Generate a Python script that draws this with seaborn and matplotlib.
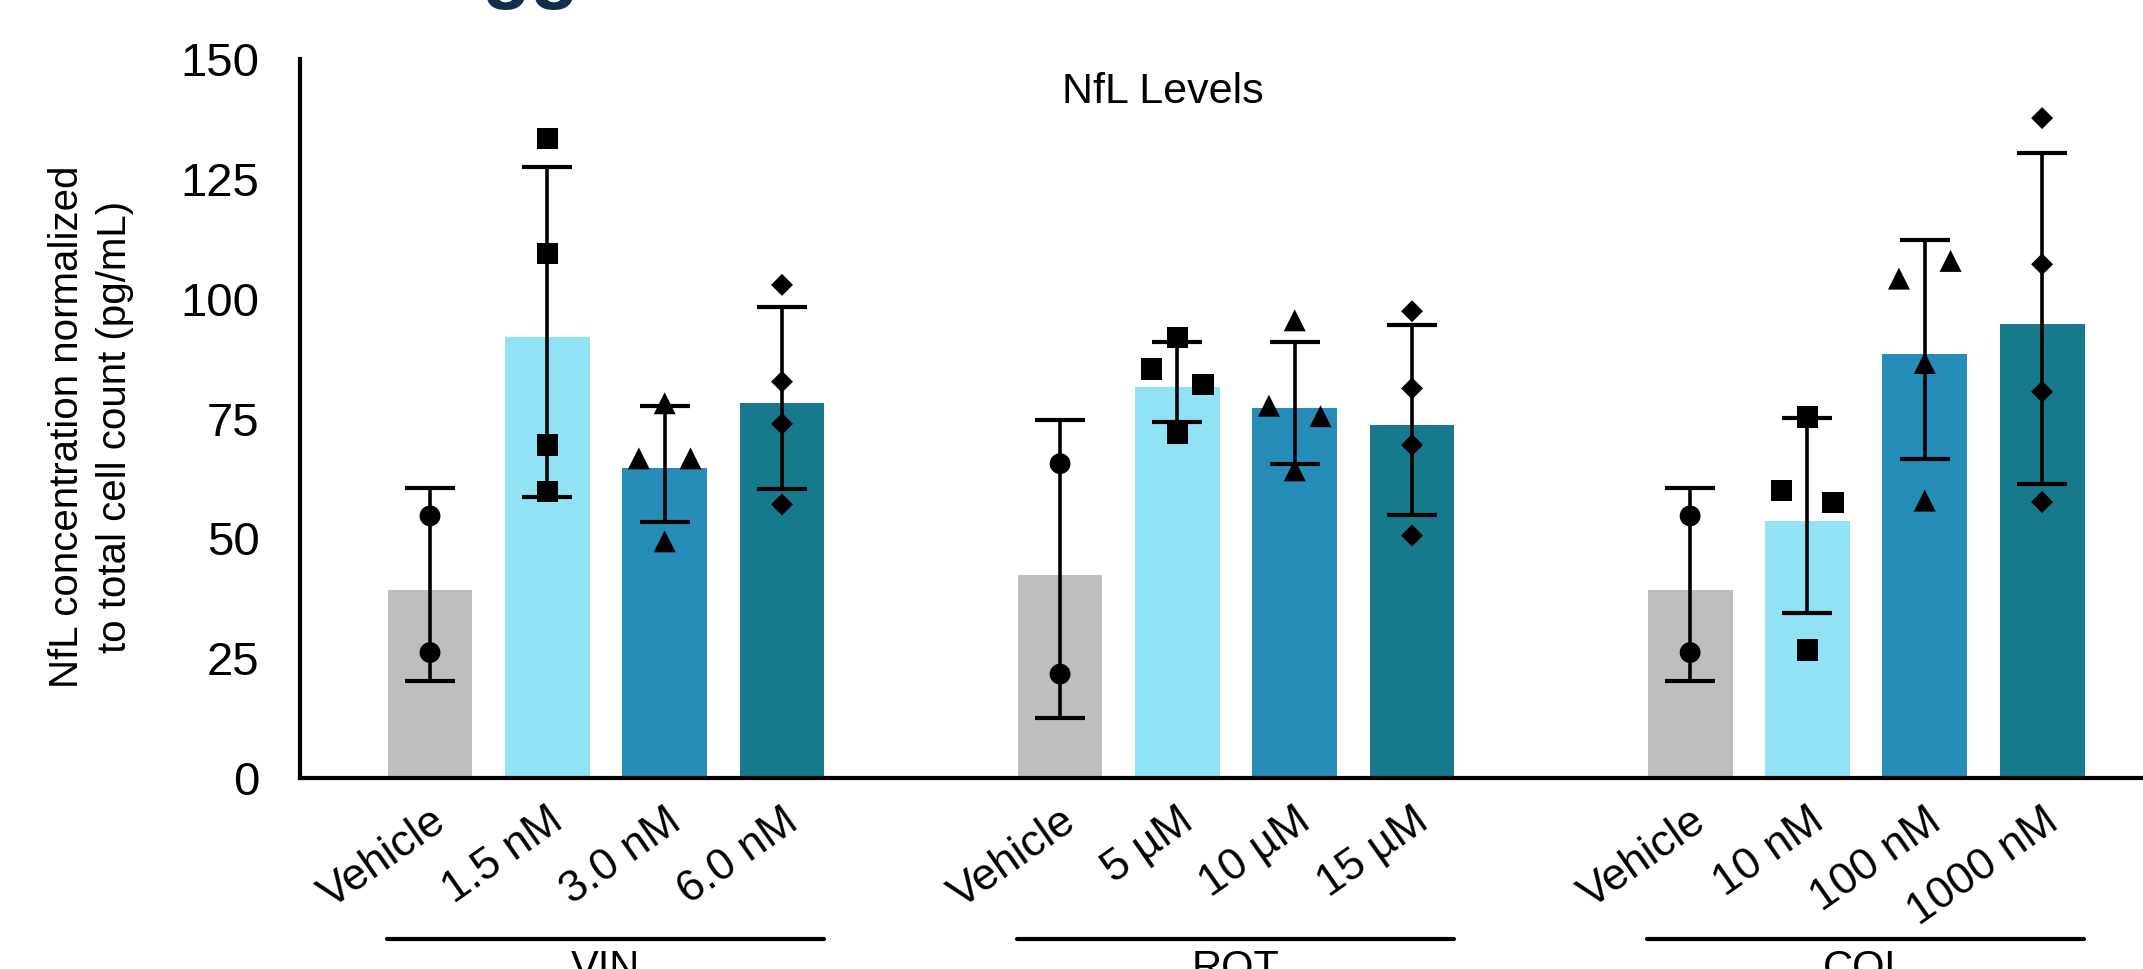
import numpy as np
import pandas as pd
import matplotlib
matplotlib.use("Agg")
import matplotlib.pyplot as plt
import matplotlib.transforms as mtransforms
import seaborn as sns

# data
groups = ["VIN", "ROT", "COL"]
dose_labels = [
    ["Vehicle", "1.5 nM", "3.0 nM", "6.0 nM"],
    ["Vehicle", "5 µM", "10 µM", "15 µM"],
    ["Vehicle", "10 nM", "100 nM", "1000 nM"],
]
bar_means = [
    [39.3, 92.0, 64.6, 78.2],
    [42.4, 81.6, 77.2, 73.7],
    [39.3, 53.6, 88.5, 94.7],
]
err_low = [
    [20.2, 58.6, 53.5, 60.3],
    [12.5, 74.3, 65.6, 54.9],
    [20.2, 34.5, 66.5, 61.3],
]
err_high = [
    [60.6, 127.5, 77.6, 98.3],
    [74.7, 91.0, 90.9, 94.5],
    [60.6, 75.2, 112.3, 130.4],
]
vin_points = [[54.7, 26.2], [133.4, 109.4, 69.5, 59.8], [78.2, 66.7, 66.7, 49.4], [102.9, 82.7, 73.9, 57.1]]
rot_points = [[65.6, 21.7], [91.9, 85.4, 82.1, 71.9], [95.5, 77.7, 75.5, 64.2], [97.4, 81.3, 69.5, 50.6]]
col_points = [[54.7, 26.2], [75.3, 60.0, 57.5, 26.7], [104.2, 107.9, 86.6, 57.9], [137.7, 107.2, 80.6, 57.6]]
all_points = [vin_points, rot_points, col_points]

# horizontal nudges for overlapping points (layout only)
vin_dx = [[0, 0], [0, 0, 0, 0], [0, -0.22, 0.22, 0], [0, 0, 0, 0]]
rot_dx = [[0, 0], [0, -0.22, 0.22, 0], [0, -0.22, 0.22, 0], [0, 0, 0, 0]]
col_dx = [[0, 0], [0, -0.22, 0.22, 0], [-0.22, 0.22, 0, 0], [0, 0, 0, 0]]
all_dx = [vin_dx, rot_dx, col_dx]

colors = ["#bebebe", "#90e2f4", "#268cb8", "#167a8c"]
markers = ["o", "s", "^", "D"]
marker_sizes = [225, 240, 250, 125]
group_step = 5.37

sns.set_style("white")
plt.rcParams["font.family"] = ["Liberation Sans", "DejaVu Sans"]
plt.rcParams["text.color"] = "black"
plt.rcParams["xtick.color"] = "black"
plt.rcParams["ytick.color"] = "black"

# build tables
bar_rows = []
pt_rows = []
for g in range(len(groups)):
    for i in range(4):
        pos = g * group_step + i
        bar_rows.append({"pos": pos, "mean": bar_means[g][i], "lo": err_low[g][i],
                         "hi": err_high[g][i], "dose": i, "label": dose_labels[g][i]})
        for v, dx in zip(all_points[g][i], all_dx[g][i]):
            pt_rows.append({"x": pos + dx, "y": v, "dose": i})
bars = pd.DataFrame(bar_rows)
pts = pd.DataFrame(pt_rows)

fig, ax = plt.subplots(figsize=(21.43, 9.69), dpi=100)
fig.subplots_adjust(left=0.140, right=1.0, bottom=0.197, top=0.939)

sns.barplot(data=bars, x="pos", y="mean", hue="dose", palette=colors, native_scale=True,
            width=0.723, errorbar=None, legend=False, saturation=1, linewidth=0, ax=ax)

ax.errorbar(bars["pos"], bars["mean"],
            yerr=[bars["mean"] - bars["lo"], bars["hi"] - bars["mean"]],
            fmt="none", ecolor="black", elinewidth=2.6, capsize=18, capthick=3, zorder=3)

for i in range(4):
    sub = pts[pts["dose"] == i]
    sns.scatterplot(data=sub, x="x", y="y", marker=markers[i], s=marker_sizes[i],
                    color="black", edgecolor="none", legend=False, ax=ax, zorder=4)

ax.set_xlim(-1.108, 14.60)
ax.set_ylim(0, 150)
ax.set_yticks([0, 25, 50, 75, 100, 125, 150])
ax.set_xticks(bars["pos"])
ax.set_xticklabels(bars["label"], rotation=35, ha="right", va="top", rotation_mode="anchor")
ax.set_xlabel("")
ax.set_ylabel("")
ax.tick_params(axis="x", length=12, width=2.5, pad=4, labelsize=32, color="black", labelcolor="black")
ax.tick_params(axis="y", length=14, width=2.5, pad=15, labelsize=34, color="black", labelcolor="black")
sns.despine(ax=ax)
for side in ["left", "bottom"]:
    ax.spines[side].set_linewidth(3)
    ax.spines[side].set_color("black")

fig.text(1163 / 2143, 1 - 103 / 969, "NfL Levels", ha="center", va="baseline", fontsize=31)
fig.text(91 / 2143, 1 - 427 / 969, "NfL concentration normalized\nto total cell count (pg/mL)",
         rotation=90, ha="center", va="center", multialignment="center", fontsize=29,
         linespacing=1.35)

# group brackets under the tick labels
trans = mtransforms.blended_transform_factory(ax.transData, fig.transFigure)
for g, name in enumerate(groups):
    x0 = g * group_step - 0.37
    x1 = g * group_step + 3 + 0.36
    ax.plot([x0, x1], [0.031, 0.031], transform=trans, clip_on=False, color="black", lw=3)
    ax.text((x0 + x1) / 2, 0.021, name, transform=trans, ha="center", va="top", fontsize=30)

# cropped heading fragment at the very top
fig.text(482 / 2143, 1.007, "gg", ha="left", va="baseline", fontsize=58, fontweight="bold",
         color="#112e4c")

fig.savefig("out.png", dpi=100)
